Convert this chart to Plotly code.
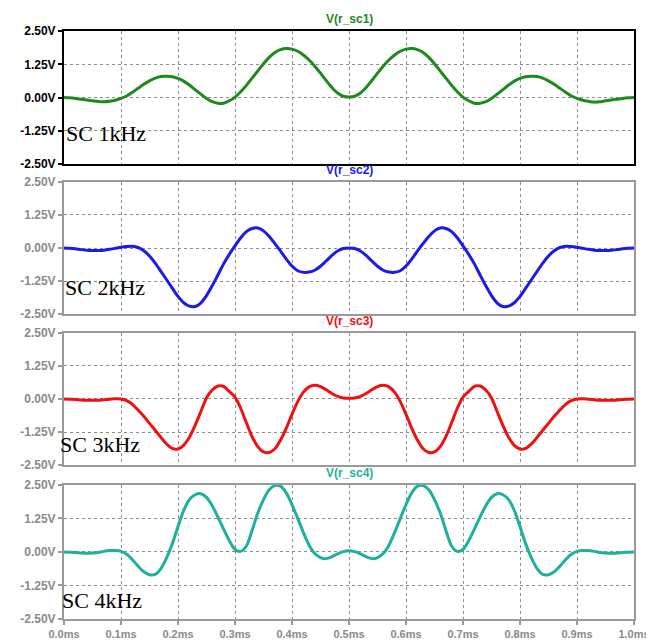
import plotly.graph_objects as go

# time axis (ms), 0.01 ms steps
time_ms = [round(i * 0.01, 2) for i in range(101)]

v_sc1 = [
    0.00, -0.01, -0.03, -0.06, -0.09, -0.12, -0.15, -0.16, -0.14, -0.10,
    -0.03, 0.06, 0.20, 0.35, 0.50, 0.63, 0.73, 0.79, 0.80, 0.78,
    0.72, 0.62, 0.47, 0.30, 0.13, -0.03, -0.15, -0.21, -0.21, -0.12,
    0.02, 0.22, 0.46, 0.73, 1.00, 1.27, 1.51, 1.69, 1.80, 1.84,
    1.82, 1.74, 1.60, 1.41, 1.18, 0.92, 0.64, 0.38, 0.17, 0.05,
    0.02, 0.05, 0.17, 0.38, 0.64, 0.92, 1.18, 1.41, 1.60, 1.74,
    1.82, 1.84, 1.80, 1.69, 1.51, 1.27, 1.00, 0.73, 0.46, 0.22,
    0.02, -0.12, -0.21, -0.21, -0.15, -0.03, 0.13, 0.30, 0.47, 0.62,
    0.72, 0.78, 0.80, 0.79, 0.73, 0.63, 0.50, 0.35, 0.20, 0.06,
    -0.03, -0.10, -0.14, -0.17, -0.16, -0.12, -0.09, -0.06, -0.03, -0.01,
    0.00,
]

v_sc2 = [
    0.00, -0.01, -0.03, -0.06, -0.08, -0.09, -0.09, -0.08, -0.05, -0.01,
    0.03, 0.06, 0.07, 0.02, -0.10, -0.30, -0.57, -0.88, -1.20, -1.52,
    -1.83, -2.07, -2.20, -2.21, -2.08, -1.80, -1.43, -1.02, -0.60, -0.24,
    0.08, 0.39, 0.62, 0.74, 0.76, 0.65, 0.44, 0.17, -0.12, -0.42,
    -0.68, -0.86, -0.92, -0.91, -0.84, -0.69, -0.49, -0.28, -0.11, -0.02,
    0.00, -0.02, -0.11, -0.28, -0.49, -0.69, -0.84, -0.91, -0.92, -0.86,
    -0.68, -0.42, -0.12, 0.17, 0.44, 0.65, 0.76, 0.74, 0.62, 0.39,
    0.08, -0.24, -0.60, -1.02, -1.43, -1.80, -2.08, -2.21, -2.20, -2.07,
    -1.83, -1.52, -1.20, -0.88, -0.57, -0.30, -0.10, 0.02, 0.07, 0.06,
    0.03, -0.01, -0.05, -0.08, -0.09, -0.09, -0.08, -0.06, -0.03, -0.01,
    0.00,
]

v_sc3 = [
    0.00, -0.01, -0.02, -0.04, -0.05, -0.05, -0.05, -0.03, -0.01, 0.01,
    0.00, -0.06, -0.20, -0.42, -0.65, -0.92, -1.18, -1.45, -1.70, -1.87,
    -1.89, -1.75, -1.45, -1.00, -0.48, 0.04, 0.34, 0.49, 0.48, 0.28,
    0.07, -0.35, -0.90, -1.42, -1.80, -2.00, -2.02, -1.88, -1.55, -1.10,
    -0.58, -0.10, 0.26, 0.46, 0.52, 0.47, 0.35, 0.21, 0.10, 0.04,
    0.03, 0.04, 0.10, 0.21, 0.35, 0.47, 0.52, 0.46, 0.26, -0.10,
    -0.58, -1.10, -1.55, -1.88, -2.02, -2.00, -1.80, -1.42, -0.90, -0.35,
    0.07, 0.28, 0.48, 0.49, 0.34, 0.04, -0.48, -1.00, -1.45, -1.75,
    -1.89, -1.87, -1.70, -1.45, -1.18, -0.92, -0.65, -0.42, -0.20, -0.06,
    0.00, 0.01, -0.01, -0.03, -0.05, -0.05, -0.05, -0.04, -0.02, -0.01,
    0.00,
]

v_sc4 = [
    0.00, -0.01, -0.02, -0.04, -0.05, -0.04, -0.02, 0.02, 0.05, 0.05,
    0.02, -0.09, -0.29, -0.53, -0.74, -0.85, -0.84, -0.62, -0.22, 0.30,
    0.95, 1.55, 1.95, 2.13, 2.17, 2.03, 1.72, 1.30, 0.85, 0.42,
    0.09, 0.02, 0.22, 0.80, 1.45, 1.95, 2.32, 2.47, 2.45, 2.20,
    1.76, 1.25, 0.72, 0.25, -0.06, -0.21, -0.25, -0.18, -0.07, 0.01,
    0.04, 0.01, -0.07, -0.18, -0.25, -0.21, -0.06, 0.25, 0.72, 1.25,
    1.76, 2.20, 2.45, 2.47, 2.32, 1.95, 1.45, 0.80, 0.22, 0.02,
    0.09, 0.42, 0.85, 1.30, 1.72, 2.03, 2.17, 2.13, 1.95, 1.55,
    0.95, 0.30, -0.22, -0.62, -0.84, -0.85, -0.74, -0.53, -0.29, -0.09,
    0.02, 0.05, 0.05, 0.02, -0.02, -0.04, -0.05, -0.04, -0.02, -0.01,
    0.00,
]

series_names = ["V(r_sc1)", "V(r_sc2)", "V(r_sc3)", "V(r_sc4)"]
panel_labels = ["SC 1kHz", "SC 2kHz", "SC 3kHz", "SC 4kHz"]
y_tick_vals = [-2.5, -1.25, 0.0, 1.25, 2.5]
y_tick_text = ["-2.50V", "-1.25V", "0.00V", "1.25V", "2.50V"]
x_tick_vals = [round(i * 0.1, 1) for i in range(11)]
x_tick_text = ["0.0ms", "0.1ms", "0.2ms", "0.3ms", "0.4ms", "0.5ms",
               "0.6ms", "0.7ms", "0.8ms", "0.9ms", "1.0ms"]

colors = ["#1e8a1e", "#1a1aee", "#f01010", "#1fb09c"]
frame_colors = ["#000000", "#9a9a9a", "#9a9a9a", "#9a9a9a"]
tick_colors = ["#000000", "#8a8a8a", "#8a8a8a", "#8a8a8a"]
domains = [[0.7735, 1.0], [0.5185, 0.7433], [0.2617, 0.4866], [0.0, 0.2282]]
label_x = [0.0, -0.002, -0.010, -0.007]
label_y = [0.825, 0.564, 0.297, 0.032]

all_series = [v_sc1, v_sc2, v_sc3, v_sc4]

fig = go.Figure()
layout = dict(
    width=654, height=644,
    margin=dict(l=51, r=18, t=23, b=25),
    paper_bgcolor="white", plot_bgcolor="white",
    showlegend=False,
    font=dict(family="Liberation Sans, Arial, sans-serif"),
)
annotations = []
for i in range(4):
    n = "" if i == 0 else str(i + 1)
    fig.add_trace(go.Scatter(
        x=time_ms, y=all_series[i], mode="lines",
        line=dict(color=colors[i], width=3, shape="spline", smoothing=0.8),
        xaxis="x" + n, yaxis="y" + n, name=series_names[i],
        hoverinfo="x+y",
    ))
    layout["xaxis" + n] = dict(
        domain=[0, 1], anchor="y" + n, range=[0, 1.0],
        tickvals=x_tick_vals, ticktext=x_tick_text,
        showticklabels=(i == 3),
        ticks="outside" if i == 3 else "", ticklen=4, tickwidth=2,
        tickcolor=frame_colors[i],
        tickfont=dict(size=11, color="#8a8a8a", weight="bold"),
        showline=True, mirror=True, linewidth=2, linecolor=frame_colors[i],
        showgrid=True, gridcolor="#8c8c8c", gridwidth=1, griddash="dot",
        zeroline=False,
        matches="x" if i > 0 else None,
    )
    layout["yaxis" + n] = dict(
        domain=domains[i], anchor="x" + n, range=[-2.5, 2.5],
        tickvals=y_tick_vals, ticktext=y_tick_text,
        ticks="outside", ticklen=4, tickwidth=2, tickcolor=frame_colors[i],
        tickfont=dict(size=12, color=tick_colors[i], weight="bold"),
        showline=True, mirror=True, linewidth=2, linecolor=frame_colors[i],
        showgrid=True, gridcolor="#8c8c8c", gridwidth=1, griddash="dot",
        zeroline=False,
    )
    annotations.append(dict(
        text="<b>" + series_names[i] + "</b>", xref="paper", yref="paper",
        x=0.5, y=domains[i][1], xanchor="center", yanchor="bottom",
        yshift=3, showarrow=False,
        font=dict(size=12, color=colors[i], family="Liberation Sans, Arial"),
    ))
    annotations.append(dict(
        text=panel_labels[i], xref="paper", yref="paper",
        x=label_x[i], y=label_y[i], xanchor="left", yanchor="middle",
        showarrow=False,
        font=dict(size=22, color="black", family="Liberation Serif, Times New Roman, serif"),
    ))

layout["annotations"] = annotations
fig.update_layout(**layout)
fig.write_html("out.html")
